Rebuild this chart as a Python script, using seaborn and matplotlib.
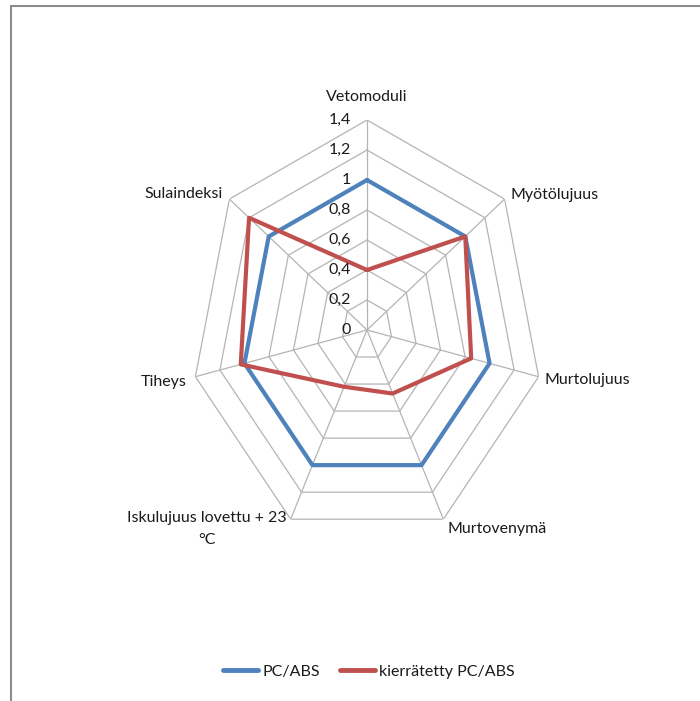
import numpy as np
import pandas as pd
import matplotlib
matplotlib.use("Agg")
import matplotlib.pyplot as plt
from matplotlib.lines import Line2D
from matplotlib.transforms import offset_copy
import seaborn as sns

# Property axes, clockwise from the top
categories = ["Vetomoduli", "Myötölujuus", "Murtolujuus", "Murtovenymä",
              "Iskulujuus lovettu + 23\n°C", "Tiheys", "Sulaindeksi"]
pc_abs = [1.00, 1.00, 1.00, 1.00, 1.00, 1.00, 1.00]
recycled_pc_abs = [0.40, 1.00, 0.85, 0.47, 0.42, 1.03, 1.20]
series_names = ["PC/ABS", "kierrätetty PC/ABS"]
ring_values = [0.0, 0.2, 0.4, 0.6, 0.8, 1.0, 1.2, 1.4]
ring_labels = ["0", "0,2", "0,4", "0,6", "0,8", "1", "1,2", "1,4"]

sns.set_theme(style="white")
plt.rcParams["font.family"] = ["Lato", "DejaVu Sans"]

colors = {"PC/ABS": "#4F81BD", "kierrätetty PC/ABS": "#C0504D"}
grid_color = "#b4b4b4"
text_color = "#1a1a1a"

n = len(categories)
angles = np.arange(n) * 2 * np.pi / n
closed = np.append(angles, angles[0])

rows = []
for name, vals in zip(series_names, [pc_abs, recycled_pc_abs]):
    for a, v in zip(closed, list(vals) + [vals[0]]):
        rows.append({"theta": a, "value": v, "series": name})
df = pd.DataFrame(rows)

fig = plt.figure(figsize=(7.0, 7.01), dpi=100)
# polar axes stretched into a slightly narrow box
ax = fig.add_axes([191 / 700, 1 - 540 / 701, 352 / 700, 420 / 701], projection="polar")
ax.set_aspect("auto")
ax.set_theta_zero_location("N")
ax.set_theta_direction(-1)
ax.set_ylim(0, 1.4)
ax.grid(False)
ax.spines["polar"].set_visible(False)
ax.patch.set_visible(False)

# polygonal web
for r in ring_values[1:]:
    ax.plot(closed, [r] * len(closed), color=grid_color, lw=0.9, zorder=1)
for a in angles:
    ax.plot([a, a], [0, ring_values[-1]], color=grid_color, lw=0.9, zorder=1)

sns.lineplot(data=df, x="theta", y="value", hue="series", palette=colors,
             sort=False, estimator=None, lw=3.0, legend=False, ax=ax, zorder=3)
ax.set_xlabel("")
ax.set_ylabel("")
ax.set_xticks([])
ax.set_yticks([])
ax.set_ylim(0, 1.4)

# radial value labels beside the top spoke
lab_tr = offset_copy(ax.transData, fig=fig, x=-16, y=0, units="dots")
for r, lab in zip(ring_values, ring_labels):
    ax.text(0, r, lab, transform=lab_tr, ha="right", va="center",
            fontsize=11.5, color=text_color)

# category labels at the outer vertices
label_specs = [
    (0, 23, "center", "center"),
    (6, 4, "left", "center"),
    (6, -3, "left", "center"),
    (4, -10, "left", "center"),
    (-4, 8, "right", "top"),
    (-9, -5, "right", "center"),
    (-7, 5, "right", "center"),
]
for a, cat, (dx, dy, ha, va) in zip(angles, categories, label_specs):
    tr = offset_copy(ax.transData, fig=fig, x=dx, y=dy, units="dots")
    ax.text(a, ring_values[-1], cat, transform=tr, ha=ha, va=va,
            multialignment="center", linespacing=1.75,
            fontsize=11.5, color=text_color)

handles = [Line2D([0], [0], color=colors[s], lw=3.5) for s in series_names]
fig.legend(handles, series_names, loc="center", bbox_to_anchor=(369 / 700, 1 - 672 / 701),
           ncol=2, frameon=False, fontsize=11.5, handlelength=2.2,
           handletextpad=0.25, columnspacing=1.3, labelcolor=text_color)

# chart area border (top and left edges)
border = "#8c8c8c"
fig.add_artist(Line2D([11 / 700, 11 / 700], [0, 1 - 6 / 701], transform=fig.transFigure,
                      color=border, lw=1.5))
fig.add_artist(Line2D([11 / 700, 1], [1 - 6 / 701, 1 - 6 / 701], transform=fig.transFigure,
                      color=border, lw=1.5))

fig.savefig("out.png", dpi=100)
